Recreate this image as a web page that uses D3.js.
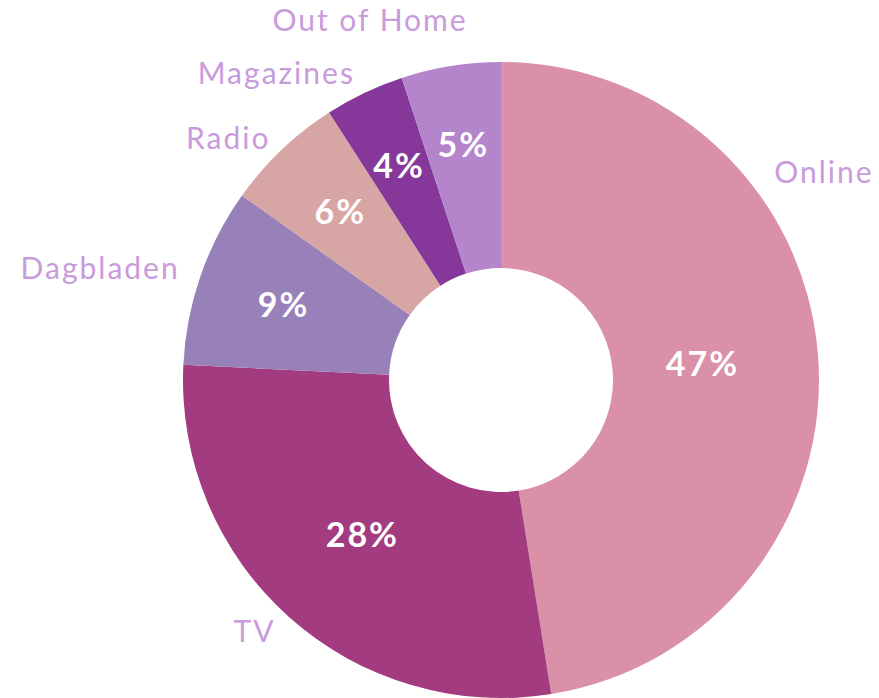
<!DOCTYPE html>
<html>
<head>
<meta charset="utf-8">
<script src="https://cdn.jsdelivr.net/npm/d3@7"></script>
<style>
	html, body { margin: 0; padding: 0; background: #fff; }
	svg { display: block; }
	.cat { font-family: Lato, "Noto Sans", sans-serif; font-weight: 400; fill: #c99bdc; }
	.pct { font-family: Lato, "Noto Sans", sans-serif; font-weight: 700; fill: #fff; }
</style>
</head>
<body>
<div id="chart"></div>
<script>
// data
var categories = ["Online", "TV", "Dagbladen", "Radio", "Magazines", "Out of Home"];
var values = [47, 28, 9, 6, 4, 5];
var sliceColors = ["#da90a6", "#a23b7f", "#9880b8", "#d8a5a5", "#85389a", "#b585cb"];

var w = 879;
var h = 698;
var cx = 501, cy = 380;
var outerR = 318;
var innerR = 112;

// percent label radius per slice
var pctRadius = [202, 208, 230, 233, 237, 238];

// category label placement: angle (deg from top), radius, anchor; null = slice mid angle
var labelPlace = [
	{ angle: 52.8, r: 343, anchor: "start" },
	{ angle: null, r: 338, anchor: "end" },
	{ angle: null, r: 340, anchor: "end" },
	{ angle: null, r: 334, anchor: "end" },
	{ angle: null, r: 340, anchor: "end" },
	{ angle: 340, r: 383, anchor: "middle" }
];

var svg = d3.select("#chart")
	.append("svg")
	.attr("width", w)
	.attr("height", h);

var g = svg.append("g")
	.attr("transform", "translate(" + cx + "," + cy + ")");

var pie = d3.pie().sort(null).value(function(d) { return d; });
var arcs = pie(values);

var arc = d3.arc().innerRadius(innerR).outerRadius(outerR);

var color = d3.scaleOrdinal().domain(categories).range(sliceColors);

function polar(a, r) {
	return [r * Math.sin(a), -r * Math.cos(a)];
}

g.selectAll("path")
	.data(arcs)
	.enter()
	.append("path")
	.attr("d", arc)
	.attr("fill", function(d, i) { return color(categories[i]); });

// percent labels
g.selectAll("text.pct")
	.data(arcs)
	.enter()
	.append("text")
	.attr("class", "pct")
	.attr("transform", function(d, i) {
		return "translate(" + polar((d.startAngle + d.endAngle) / 2, pctRadius[i]) + ")";
	})
	.attr("text-anchor", "middle")
	.attr("dy", "0.36em")
	.style("font-size", "34px")
	.style("letter-spacing", "2px")
	.text(function(d) { return d.data + "%"; });

// category labels
g.selectAll("text.cat")
	.data(arcs)
	.enter()
	.append("text")
	.attr("class", "cat")
	.attr("transform", function(d, i) {
		var p = labelPlace[i];
		var a = p.angle == null ? (d.startAngle + d.endAngle) / 2 : p.angle * Math.PI / 180;
		return "translate(" + polar(a, p.r) + ")";
	})
	.attr("text-anchor", function(d, i) { return labelPlace[i].anchor; })
	.attr("dy", "0.35em")
	.style("font-size", "30px")
	.style("letter-spacing", "2px")
	.text(function(d, i) { return categories[i]; });
</script>
</body>
</html>
